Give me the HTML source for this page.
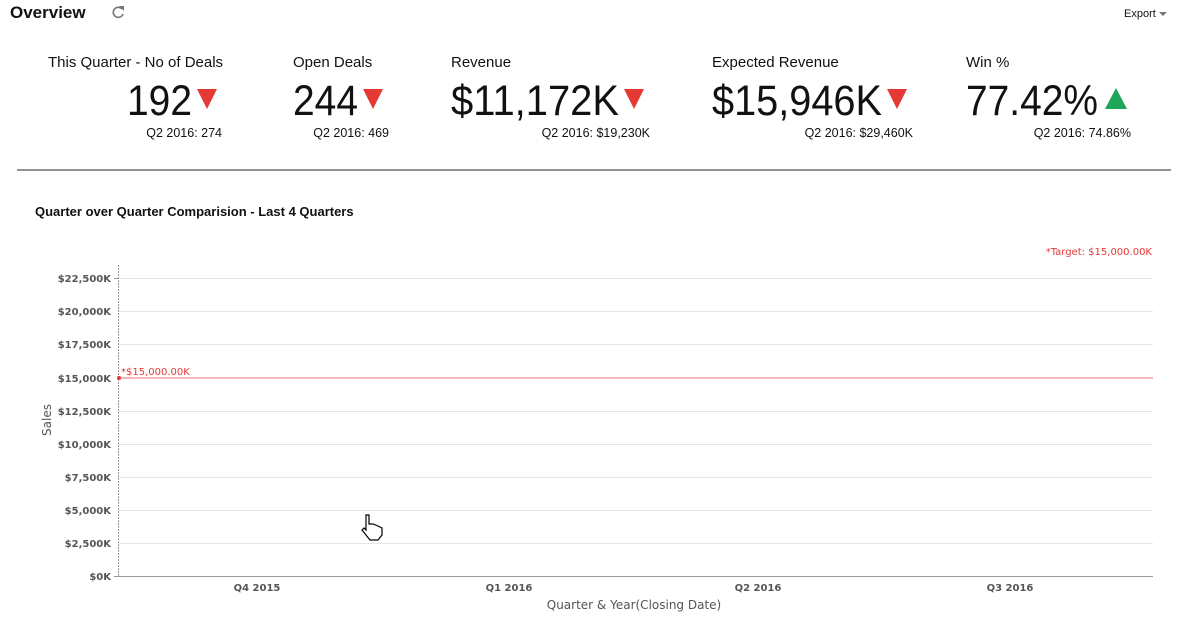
<!DOCTYPE html>
<html><head><meta charset="utf-8"><style>
body{margin:0;background:#fff;width:1189px;height:636px;overflow:hidden}
svg{display:block}
.l{font-family:"Liberation Sans",sans-serif;fill:#111}
.t{font-family:"DejaVu Sans",sans-serif;font-size:10px;font-weight:bold;fill:#555}
</style></head><body>
<svg width="1189" height="636" viewBox="0 0 1189 636">
<text class="l" x="10" y="18" font-size="17" font-weight="bold">Overview</text>
<g fill="none" stroke="#777" stroke-width="1.6"><path d="M122 9 A5 5 0 1 0 123 14"/></g>
<path d="M119 6 L124 6 L124 11 Z" fill="#777"/>
<text class="l" x="1124" y="17" font-size="11">Export</text>
<path d="M1159 12 L1167 12 L1163 16 Z" fill="#777"/>

<g class="l" font-size="15">
<text x="48" y="67">This Quarter - No of Deals</text>
<text x="293" y="67">Open Deals</text>
<text x="451" y="67">Revenue</text>
<text x="712" y="67">Expected Revenue</text>
<text x="966" y="67">Win %</text>
</g>
<g class="l" font-size="43">
<text x="127" y="115" textLength="65" lengthAdjust="spacingAndGlyphs">192</text>
<text x="293" y="115" textLength="65" lengthAdjust="spacingAndGlyphs">244</text>
<text x="451" y="115" textLength="168" lengthAdjust="spacingAndGlyphs">$11,172K</text>
<text x="712" y="115" textLength="170" lengthAdjust="spacingAndGlyphs">$15,946K</text>
<text x="966" y="115" textLength="132" lengthAdjust="spacingAndGlyphs">77.42%</text>
</g>
<g fill="#e53935">
<path d="M197 89 L217 89 L207 109 Z"/>
<path d="M363 89 L383 89 L373 109 Z"/>
<path d="M624 89 L644 89 L634 109 Z"/>
<path d="M887 89 L907 89 L897 109 Z"/>
</g>
<path d="M1105 109 L1127 109 L1116 88 Z" fill="#1fa55a"/>
<g class="l" font-size="12.5" text-anchor="end">
<text x="222" y="137">Q2 2016: 274</text>
<text x="389" y="137">Q2 2016: 469</text>
<text x="650" y="137">Q2 2016: $19,230K</text>
<text x="913" y="137">Q2 2016: $29,460K</text>
<text x="1131" y="137">Q2 2016: 74.86%</text>
</g>
<line x1="17" y1="170" x2="1171" y2="170" stroke="#555" stroke-width="1.2"/>
<text class="l" x="35" y="216" font-size="13" font-weight="bold">Quarter over Quarter Comparision - Last 4 Quarters</text>
<text x="1152" y="255" text-anchor="end" font-family="DejaVu Sans,sans-serif" font-size="10" fill="#e53935">*Target: $15,000.00K</text>

<g stroke="#e6e6e6" stroke-width="1">
<line x1="118" y1="278.5" x2="1153" y2="278.5"/><line x1="118" y1="311.5" x2="1153" y2="311.5"/>
<line x1="118" y1="344.5" x2="1153" y2="344.5"/><line x1="118" y1="411.5" x2="1153" y2="411.5"/>
<line x1="118" y1="444.5" x2="1153" y2="444.5"/><line x1="118" y1="477.5" x2="1153" y2="477.5"/>
<line x1="118" y1="510.5" x2="1153" y2="510.5"/><line x1="118" y1="543.5" x2="1153" y2="543.5"/>
</g>
<line x1="118.5" y1="265" x2="118.5" y2="576" stroke="#999" stroke-dasharray="2,1"/>
<line x1="118" y1="576.5" x2="1153" y2="576.5" stroke="#999"/>
<line x1="118" y1="378" x2="1153" y2="378" stroke="#f2a0a0" stroke-width="1.5"/>
<circle cx="119" cy="378" r="2" fill="#e53935"/>
<text x="121" y="375" font-family="DejaVu Sans,sans-serif" font-size="10" fill="#e53935">*$15,000.00K</text>
<g class="t" text-anchor="end">
<text x="111" y="282">$22,500K</text><text x="111" y="315">$20,000K</text>
<text x="111" y="348">$17,500K</text><text x="111" y="382">$15,000K</text>
<text x="111" y="415">$12,500K</text><text x="111" y="448">$10,000K</text>
<text x="111" y="481">$7,500K</text><text x="111" y="514">$5,000K</text>
<text x="111" y="547">$2,500K</text><text x="111" y="580">$0K</text>
</g>
<g stroke="#999"><line x1="114" y1="278.5" x2="118" y2="278.5"/><line x1="114" y1="576.5" x2="118" y2="576.5"/></g>
<g class="t" text-anchor="middle">
<text x="257" y="591">Q4 2015</text><text x="509" y="591">Q1 2016</text>
<text x="758" y="591">Q2 2016</text><text x="1010" y="591">Q3 2016</text>
</g>
<text x="634" y="609" text-anchor="middle" font-family="DejaVu Sans,sans-serif" font-size="12" fill="#555">Quarter &amp; Year(Closing Date)</text>
<text transform="translate(51,420) rotate(-90)" text-anchor="middle" font-family="DejaVu Sans,sans-serif" font-size="12" fill="#555">Sales</text>
<path d="M366 515 L369 515 L369 524 L373 524 L378 526 L382 528 L382 535 L378 540 L370 540 L362 530 L364 528 L366 530 Z" fill="#fff" stroke="#000" stroke-width="1.2"/>
</svg>
</body></html>
